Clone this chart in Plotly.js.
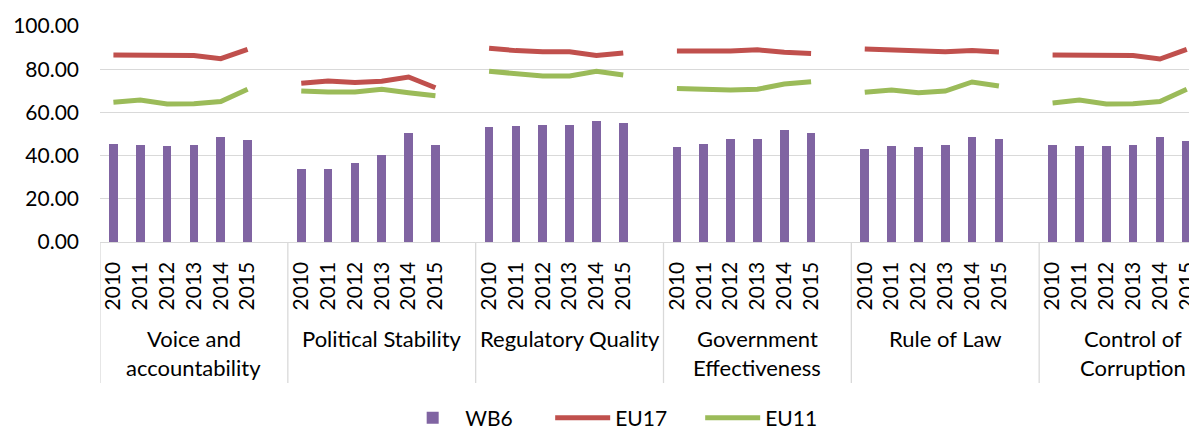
<!DOCTYPE html>
<html><head><meta charset="utf-8">
<script src="https://cdn.plot.ly/plotly-3.0.1.min.js"></script>
<style>html,body{margin:0;padding:0;overflow:hidden;background:#fff;} #chart{width:1233px;height:427px;}</style>
</head><body><div id="chart"></div>
<script>
// Categories
const groupLines = [
  ["Voice and", "accountability"],
  ["Political Stability"],
  ["Regulatory Quality"],
  ["Government", "Effectiveness"],
  ["Rule of Law"],
  ["Control of", "Corruption"]
];
const years = ["2010", "2011", "2012", "2013", "2014", "2015"];

// Series values (6 groups x 6 years)
const wb6 = [
  45.2, 44.7, 44.6, 44.8, 48.6, 47.1,
  33.6, 33.7, 36.6, 40.3, 50.5, 44.8,
  53.2, 53.7, 54.0, 54.2, 55.9, 55.2,
  43.8, 45.4, 47.7, 47.5, 51.9, 50.5,
  42.9, 44.4, 44.0, 44.8, 48.8, 47.7,
  45.1, 44.6, 44.6, 44.8, 48.5, 46.9
];
const eu17 = [
  86.6, 86.6, 86.3, 86.3, 84.9, 89.2,
  73.5, 74.5, 73.8, 74.4, 76.4, 71.4,
  89.7, 88.6, 88.1, 88.1, 86.3, 87.5,
  88.4, 88.4, 88.4, 89.0, 87.8, 87.3,
  89.4, 88.9, 88.3, 88.1, 88.7, 88.0,
  86.6, 86.6, 86.3, 86.3, 84.7, 89.2
];
const eu11 = [
  64.7, 65.7, 63.9, 64.0, 65.0, 70.7,
  69.9, 69.4, 69.5, 70.7, 69.1, 67.7,
  79.0, 78.1, 76.9, 76.9, 79.0, 77.3,
  71.1, 70.7, 70.4, 70.7, 73.1, 74.2,
  69.3, 70.4, 69.1, 69.9, 74.1, 72.2,
  64.4, 65.7, 63.9, 64.0, 65.0, 70.7
];
const yTicks = [0, 20, 40, 60, 80, 100];

// Build positions: each group has 6 year slots + 1 blank slot
const slots = 7;
const xs = [], tickText = [];
groupLines.forEach((g, gi) => years.forEach((y, k) => { xs.push(gi * slots + k); tickText.push(y); }));

function withGaps(vals) {
  const x = [], y = [];
  groupLines.forEach((g, gi) => {
    years.forEach((yr, k) => { x.push(gi * slots + k); y.push(vals[gi * years.length + k]); });
    x.push(gi * slots + years.length); y.push(null);
  });
  return {x, y};
}
const l17 = withGaps(eu17), l11 = withGaps(eu11);

const FONT = 'Lato, "Open Sans", sans-serif';
const traces = [
  {type: 'bar', name: 'WB6', x: xs, y: wb6, width: 0.32, marker: {color: '#8064A2'}, hoverinfo: 'y'},
  {type: 'scatter', mode: 'lines', name: 'EU17', x: l17.x, y: l17.y, connectgaps: false, line: {color: '#C0504D', width: 5}},
  {type: 'scatter', mode: 'lines', name: 'EU11', x: l11.x, y: l11.y, connectgaps: false, line: {color: '#9BBB59', width: 5}}
];

const shapes = [];
for (let g = 0; g <= groupLines.length; g++) {
  shapes.push({type: 'line', xref: 'x', yref: 'paper', x0: g * slots - 0.5, x1: g * slots - 0.5, y0: 0, y1: -0.653, line: {color: '#D9D9D9', width: 1.3}});
}
const annotations = [];
const lineY = [-0.449, -0.583];
groupLines.forEach((lines, gi) => {
  lines.forEach((t, li) => {
    annotations.push({xref: 'x', yref: 'paper', x: gi * slots + 3, y: lineY[li], text: t, showarrow: false, xanchor: 'center', yanchor: 'middle', font: {family: FONT, size: 22, color: '#000'}});
  });
});

const layout = {
  width: 1233, height: 427,
  margin: {l: 100, r: 6, t: 26, b: 185, autoexpand: false},
  paper_bgcolor: '#fff', plot_bgcolor: '#fff',
  showlegend: true,
  bargap: 0,
  xaxis: {range: [-0.5, 41.5], tickmode: 'array', tickvals: xs, ticktext: tickText, tickangle: -90,
    tickfont: {family: FONT, size: 21, color: '#000'}, showgrid: false, zeroline: false,
    showline: true, linecolor: '#D9D9D9', linewidth: 1.3, ticks: '', ticklabelstandoff: 10, automargin: false, fixedrange: true},
  yaxis: {range: [0, 100], tickmode: 'array', tickvals: yTicks, tickformat: '.2f',
    tickfont: {family: FONT, size: 21, color: '#000'}, gridcolor: '#D9D9D9', gridwidth: 1.3,
    zeroline: false, showline: false, ticks: '', ticklabelstandoff: 20, automargin: false, fixedrange: true},
  legend: {orientation: 'h', x: 0.466, xanchor: 'center', y: -0.815, yanchor: 'middle',
    font: {family: FONT, size: 21, color: '#000'}, itemwidth: 55, entrywidth: 80, entrywidthmode: 'pixels', bgcolor: 'rgba(0,0,0,0)'},
  shapes: shapes,
  annotations: annotations
};
Plotly.newPlot('chart', traces, layout, {displayModeBar: false, staticPlot: true});
</script></body></html>
